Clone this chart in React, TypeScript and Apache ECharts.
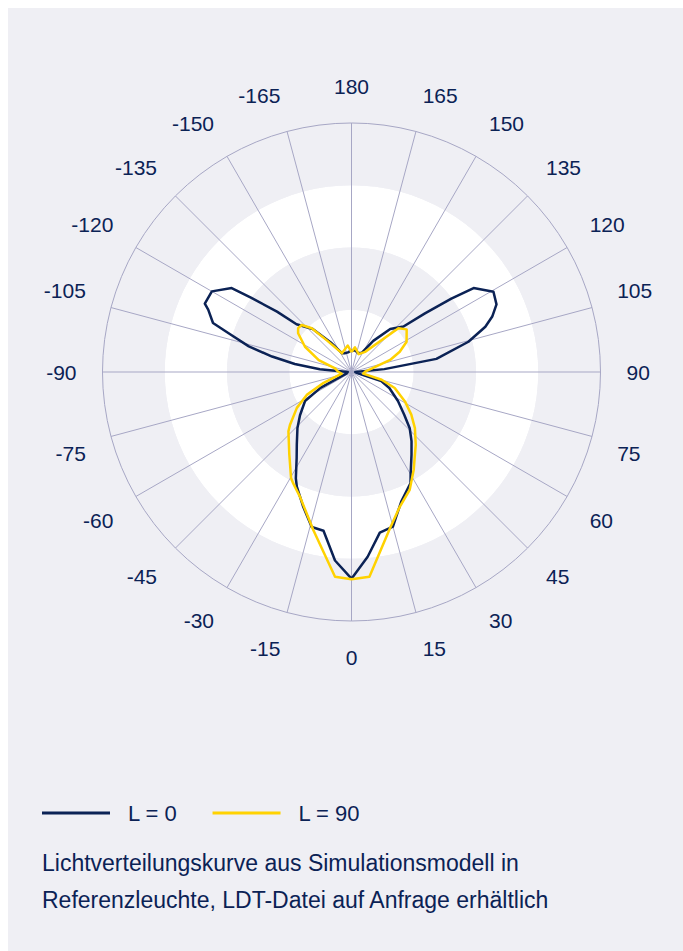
import React, { useEffect, useRef } from "react";
import * as echarts from "echarts";

// Angle axis (degrees) and radial scale
const ANGLE_MIN = -180;
const ANGLE_MAX = 180;
const ANGLE_STEP = 15;
const RADIUS_MAX = 400;
const RADIUS_STEP = 100;

const seriesNames = ["L = 0", "L = 90"];

// L = 0 (navy): angle in degrees, intensity value
const l0Angles = [
  -180, -170, -160, -153, -145, -138, -131, -129, -126.5, -125, -120, -115, -113.5, -109.5, -107.5, -104, -101, -98, -95, -90,
  -75, -63, -58, -50, -44, -37, -32.5, -27.6, -25.5, -19.7, -14.4, -10, -5, 0, 5, 10, 15, 21, 28, 30, 36, 41, 46, 51, 58, 67,
  73, 80, 90, 95, 98.8, 104.5, 108.7, 111.5, 115, 119.5, 124.5, 126.3, 128.6, 131.2, 138, 145, 152, 160, 170, 180,
];
const l0Values = [
  35, 32, 32, 34, 58, 93, 117, 154, 201, 235, 259, 260, 251, 236, 207, 170, 130, 92, 51, 6,
  8, 56, 88, 108, 125, 146, 164, 193, 204, 230, 257, 259, 304, 332, 298, 262, 257, 223, 202, 190, 164, 147, 130, 109, 88, 66,
  50, 8, 6, 53, 138, 194, 227, 243, 257, 262, 238, 199, 151, 111, 93, 61, 35, 32, 35, 35,
];

// L = 90 (yellow)
const l90Angles = [
  -180, -172, -153, -142, -137.7, -133.3, -129.4, -126, -118.5, -110, -102.6, -92, -80, -68.7, -63, -56.7, -49.4, -46.8, -37,
  -29.7, -27.6, -22.4, -13.6, -4.6, 0, 5, 13.6, 19.7, 26.3, 32.5, 41.4, 48.5, 54.5, 61.2, 69.7, 75.5, 82, 92, 107.3, 112.7,
  118.8, 127.7, 133, 146, 158, 172, 180,
];
const l90Values = [
  32, 43, 34, 65, 95, 110, 111, 106, 85, 56, 27, 22, 16, 48, 80, 105, 130, 139, 166,
  196, 202, 217, 261, 330, 333, 330, 260, 230, 211, 186, 156, 136, 118, 98, 74, 50, 19, 22, 65, 84,
  101, 112, 103, 39, 31, 40, 32,
];

const caption = [
  "Lichtverteilungskurve aus Simulationsmodell in",
  "Referenzleuchte, LDT-Datei auf Anfrage erhältlich",
];

const NAVY = "#0b2255";
const YELLOW = "#ffd200";
const GRID = "#a7a7c5";
const BG = "#efeff4";
const FONT = "'Liberation Sans', Arial, Helvetica, sans-serif";
const LABEL_SIZE = 21;
const LABEL_MARGIN = 26;
const POLAR_RADIUS = 249;

function zip(angles: number[], values: number[]) {
  return angles.map((a, i) => [values[i], a]);
}

function tickText(v: number) {
  return v === -180 || v === 180 ? "180" : String(v);
}

// Rich styles so that labels just off the vertical/horizontal are aligned
// away from the axis (left/right, top/bottom) instead of centred.
function buildRich() {
  const ctx = document.createElement("canvas").getContext("2d");
  if (ctx) ctx.font = `${LABEL_SIZE}px ${FONT}`;
  const thr = (0.3 * POLAR_RADIUS) / (POLAR_RADIUS + LABEL_MARGIN);
  const rich: Record<string, any> = {};
  for (let v = ANGLE_MIN; v <= ANGLE_MAX; v += ANGLE_STEP) {
    const rad = (v * Math.PI) / 180;
    const sx = Math.sin(rad);
    const sy = Math.cos(rad);
    const text = tickText(v);
    const w = ctx ? ctx.measureText(text).width : text.length * LABEL_SIZE * 0.556;
    const h = LABEL_SIZE;
    let pl = 0, pr = 0, pt = 0, pb = 0;
    if (Math.abs(sx) > 1e-6 && Math.abs(sx) < thr) {
      if (sx > 0) pl = w;
      else pr = w;
    }
    if (Math.abs(sy) > 1e-6 && Math.abs(sy) < thr) {
      if (sy > 0) pt = h;
      else pb = h;
    }
    rich["a" + (v - ANGLE_MIN)] = {
      padding: [pt, pr, pb, pl],
      fontSize: LABEL_SIZE,
      fontFamily: FONT,
      color: NAVY,
    };
  }
  return rich;
}

export default function App() {
  const ref = useRef<HTMLDivElement>(null);

  useEffect(() => {
    if (!ref.current) return;
    const chart = echarts.init(ref.current, undefined, { renderer: "svg" });
    chart.setOption({
      animation: false,
      backgroundColor: BG,
      polar: { center: [343.5, 364], radius: POLAR_RADIUS },
      angleAxis: {
        type: "value",
        min: ANGLE_MIN,
        max: ANGLE_MAX,
        interval: ANGLE_STEP,
        startAngle: 90,
        clockwise: false,
        axisLine: { show: true, lineStyle: { color: GRID, width: 1 } },
        axisTick: { show: false },
        axisLabel: {
          margin: LABEL_MARGIN,
          fontSize: LABEL_SIZE,
          color: NAVY,
          fontFamily: FONT,
          formatter: (v: number) => `{a${Math.round(v) - ANGLE_MIN}|${tickText(Math.round(v))}}`,
          rich: buildRich(),
        },
        splitLine: { show: true, lineStyle: { color: GRID, width: 1 } },
      },
      radiusAxis: {
        type: "value",
        min: 0,
        max: RADIUS_MAX,
        interval: RADIUS_STEP,
        axisLine: { show: false },
        axisTick: { show: false },
        axisLabel: { show: false },
        splitLine: { show: false },
        splitArea: { show: true, areaStyle: { color: ["#ffffff", BG] } },
      },
      legend: {
        left: 29,
        top: 789,
        icon: "rect",
        itemWidth: 68,
        itemHeight: 3,
        itemGap: 35,
        data: seriesNames,
        textStyle: { fontSize: 22, color: NAVY, fontFamily: FONT, padding: [0, 0, 0, 13] },
      },
      series: [
        {
          name: seriesNames[0],
          type: "line",
          coordinateSystem: "polar",
          showSymbol: false,
          symbol: "none",
          color: NAVY,
          lineStyle: { color: NAVY, width: 2.5, join: "round" },
          data: zip(l0Angles, l0Values),
          z: 3,
        },
        {
          name: seriesNames[1],
          type: "line",
          coordinateSystem: "polar",
          showSymbol: false,
          symbol: "none",
          color: YELLOW,
          lineStyle: { color: YELLOW, width: 2.5, join: "round" },
          data: zip(l90Angles, l90Values),
          z: 4,
        },
      ],
      graphic: [
        {
          type: "text",
          left: 34,
          top: 836,
          style: {
            text: caption.join("\n"),
            font: `23px ${FONT}`,
            fill: NAVY,
            lineHeight: 37,
          },
        },
      ],
    });
    return () => chart.dispose();
  }, []);

  return (
    <div
      ref={ref}
      style={{ position: "fixed", left: 8, top: 8, width: 675, height: 943 }}
    />
  );
}
